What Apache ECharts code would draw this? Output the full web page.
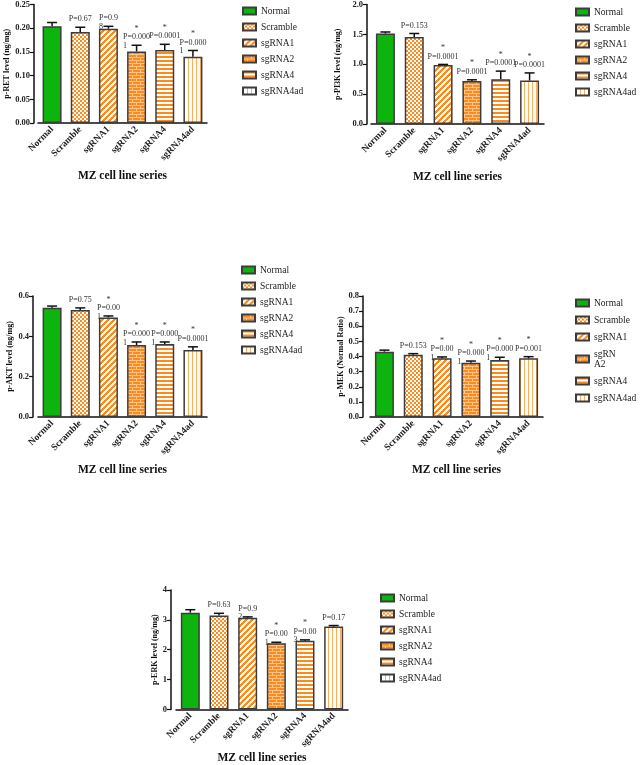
<!DOCTYPE html>
<html>
<head>
<meta charset="utf-8">
<script src="https://cdn.jsdelivr.net/npm/echarts@6/dist/echarts.min.js"></script>
<style>
html,body{margin:0;padding:0;background:#fff;}
#chart{width:640px;height:765px;}
</style>
</head>
<body>
<div id="chart"></div>
<script>
// ---------------- DATA ----------------
const categories = ['Normal', 'Scramble', 'sgRNA1', 'sgRNA2', 'sgRNA4', 'sgRNA4ad'];

const retMean = [0.204, 0.192, 0.199, 0.151, 0.154, 0.140];
const retErr  = [0.008, 0.010, 0.005, 0.013, 0.012, 0.013];
const retNote = ['', 'P=0.67', 'P=0.9\n8', '*\nP=0.000\n1', '*\nP=0.0001', '*\nP=0.000\n1'];

const pi3kMean = [1.515, 1.455, 0.987, 0.720, 0.750, 0.727];
const pi3kErr  = [0.025, 0.060, 0.010, 0.020, 0.135, 0.128];
const pi3kNote = ['', 'P=0.153', '*\nP=0.0001', '*\nP=0.0001', '*\nP=0.0001', '*\nP=0.0001'];

const aktMean = [0.542, 0.530, 0.494, 0.357, 0.362, 0.332];
const aktErr  = [0.008, 0.011, 0.007, 0.015, 0.010, 0.016];
const aktNote = ['', 'P=0.75', '*\nP=0.00\n1', '*\nP=0.000\n1', '*\nP=0.000\n1', '*\nP=0.0001'];

const mekMean = [0.432, 0.412, 0.388, 0.359, 0.377, 0.388];
const mekErr  = [0.010, 0.007, 0.009, 0.011, 0.018, 0.011];
const mekNote = ['', 'P=0.153', '*\nP=0.00\n1', '*\nP=0.000\n1', '*\nP=0.000\n1', '*\nP=0.001'];

const erkMean = [3.24, 3.15, 3.07, 2.22, 2.30, 2.78];
const erkErr  = [0.10, 0.07, 0.03, 0.03, 0.03, 0.03];
const erkNote = ['', 'P=0.63', 'P=0.9\n2', '*\nP=0.00\n1', '*\nP=0.00\n3', 'P=0.17'];

const yNames = ['p-RET level (ng/mg)', 'p-PI3K level (ng/mg)', 'p-AKT level (ng/mg)', 'p-MEK (Normal Ratio)', 'p-ERK level (ng/mg)'];
const yMax = [0.25, 2, 0.6, 0.8, 4];
const yInterval = [0.05, 0.5, 0.2, 0.1, 1];
const yDecimals = [2, 1, 1, 1, 0];
const xName = 'MZ cell line series';

// ---------------- STYLE / LAYOUT ----------------
const FONT = '"Liberation Serif", "Times New Roman", serif';
const ORANGE = '#ff8a1c';
const GREEN = '#0db40d';

const layout = [
  {grid: {left: 38, top: 3, width: 169, height: 120}, off: 4, yGap: 22, xGap: 47, legend: {left: 242, top: 5}},
  {grid: {left: 371, top: 3, width: 173, height: 121}, off: 4, yGap: 25, xGap: 47, legend: {left: 575, top: 6}},
  {grid: {left: 38, top: 296, width: 169, height: 121}, off: 5, yGap: 19, xGap: 47, legend: {left: 241, top: 264}},
  {grid: {left: 370, top: 296, width: 173, height: 121}, off: 7, yGap: 17, xGap: 47, legend: {left: 575, top: 298}},
  {grid: {left: 176, top: 590, width: 172, height: 121}, off: 5, yGap: 12, xGap: 33, legend: {left: 380, top: 592}}
];

function makeCanvas(w, h, draw) {
  const c = document.createElement('canvas');
  c.width = w; c.height = h;
  const ctx = c.getContext('2d');
  ctx.fillStyle = '#fff';
  ctx.fillRect(0, 0, w, h);
  draw(ctx);
  return c;
}
const checker = makeCanvas(4, 4, ctx => {
  ctx.fillStyle = ORANGE;
  ctx.fillRect(0, 0, 2, 2);
  ctx.fillRect(2, 2, 2, 2);
});
const diag = makeCanvas(6, 6, ctx => {
  ctx.fillStyle = ORANGE;
  for (let x = 0; x < 6; x++) for (let y = 0; y < 6; y++) {
    if ((x + y) % 6 < 3) ctx.fillRect(x, y, 1, 1);
  }
});
const brick = makeCanvas(8, 6, ctx => {
  ctx.fillStyle = ORANGE;
  ctx.fillRect(0, 0, 8, 6);
  ctx.fillStyle = '#ffc58a';
  ctx.fillRect(0, 0, 8, 1);
  ctx.fillRect(0, 3, 8, 1);
  ctx.fillRect(0, 1, 1, 2);
  ctx.fillRect(4, 4, 1, 2);
});
const hstripe = makeCanvas(2, 4, ctx => {
  ctx.fillStyle = ORANGE;
  ctx.fillRect(0, 0, 2, 2);
});
const vstripe = makeCanvas(4, 2, ctx => {
  ctx.fillStyle = '#ffae5c';
  ctx.fillRect(0, 0, 1, 2);
});
const fills = [
  GREEN,
  {image: checker, repeat: 'repeat'},
  {image: diag, repeat: 'repeat'},
  {image: brick, repeat: 'repeat'},
  {image: hstripe, repeat: 'repeat'},
  {image: vstripe, repeat: 'repeat'}
];

const measureCtx = document.createElement('canvas').getContext('2d');
const NOTE_SIZE = 8;
measureCtx.font = NOTE_SIZE + 'px ' + FONT;

const panels = [
  {mean: retMean, err: retErr, note: retNote},
  {mean: pi3kMean, err: pi3kErr, note: pi3kNote},
  {mean: aktMean, err: aktErr, note: aktNote},
  {mean: mekMean, err: mekErr, note: mekNote},
  {mean: erkMean, err: erkErr, note: erkNote}
];

const grids = [], xAxes = [], yAxes = [], legends = [], series = [];

panels.forEach((p, pi) => {
  const L = layout[pi];
  grids.push(Object.assign({containLabel: false}, L.grid));
  xAxes.push({
    type: 'category', gridIndex: pi, data: categories,
    name: xName, nameLocation: 'middle', nameGap: L.xGap,
    nameTextStyle: {fontFamily: FONT, fontWeight: 'bold', fontSize: 11.5, color: '#111'},
    axisLine: {lineStyle: {color: '#111', width: 1.5}},
    axisTick: {alignWithLabel: true, length: 4, lineStyle: {color: '#111', width: 1.2}},
    axisLabel: {interval: 0, rotate: 45, fontFamily: FONT, fontWeight: 'bold', fontSize: 9.5, color: '#222', margin: 5}
  });
  yAxes.push({
    type: 'value', gridIndex: pi, min: 0, max: yMax[pi], interval: yInterval[pi],
    offset: L.off,
    name: yNames[pi], nameLocation: 'middle', nameGap: L.yGap, nameRotate: 90,
    nameTextStyle: {fontFamily: FONT, fontWeight: 'bold', fontSize: 8, color: '#111'},
    axisLine: {show: true, lineStyle: {color: '#111', width: 1.5}},
    axisTick: {show: true, length: 4, lineStyle: {color: '#111', width: 1.2}},
    splitLine: {show: false},
    axisLabel: {fontFamily: FONT, fontWeight: 'bold', fontSize: 8.5, color: '#222', margin: 4,
      formatter: v => v.toFixed(yDecimals[pi])}
  });
  legends.push({
    orient: 'vertical', left: L.legend.left, top: L.legend.top, padding: 0,
    icon: 'rect',
    itemWidth: 13, itemHeight: 7, itemGap: pi === 3 ? 7 : 4,
    selectedMode: false,
    data: categories,
    formatter: pi === 3 ? (n => n === 'sgRNA2' ? 'sgRN\nA2' : n) : (n => n),
    textStyle: {fontFamily: FONT, fontSize: 9.5, color: '#222', lineHeight: pi === 3 ? 10 : 12}
  });
  categories.forEach((c, ci) => {
    series.push({
      type: 'bar', name: c, xAxisIndex: pi, yAxisIndex: pi,
      barWidth: 19, barGap: '-100%',
      data: categories.map((_, k) => k === ci ? p.mean[k] : '-'),
      itemStyle: {color: fills[ci], borderColor: '#3c3c3c', borderWidth: 1.5},
      emphasis: {disabled: true},
      animation: false, z: 2
    });
  });
  series.push({
    type: 'custom', xAxisIndex: pi, yAxisIndex: pi, z: 5, animation: false, silent: true,
    data: p.mean.map((m, k) => [k, m, p.err[k]]),
    encode: {x: 0, y: 1},
    renderItem: (params, api) => {
      const i = api.value(0), m = api.value(1), e = api.value(2);
      const top = api.coord([i, m]);
      const cap = api.coord([i, m + e]);
      const cx = top[0];
      const children = [
        {type: 'line', shape: {x1: cx, y1: top[1], x2: cx, y2: cap[1]}, style: {stroke: '#111', lineWidth: 1.5}},
        {type: 'line', shape: {x1: cx - 5, y1: cap[1], x2: cx + 5, y2: cap[1]}, style: {stroke: '#111', lineWidth: 1.5}}
      ];
      const note = p.note[params.dataIndex];
      if (note) {
        let lines = note.split('\n');
        let star = false;
        if (lines[0] === '*') { star = true; lines = lines.slice(1); }
        const firstY = cap[1] - 8;
        if (lines.length) {
          const w = measureCtx.measureText(lines[0]).width;
          const left = cx - w / 2;
          lines.forEach((ln, li) => {
            children.push({type: 'text', x: left, y: firstY + li * 8.5,
              style: {text: ln, fill: '#333', font: NOTE_SIZE + 'px ' + FONT, align: 'left', verticalAlign: 'middle'}});
          });
        }
        if (star) {
          children.push({type: 'text', x: cx, y: firstY - 8.5,
            style: {text: '*', fill: '#333', font: NOTE_SIZE + 'px ' + FONT, align: 'center', verticalAlign: 'middle'}});
        }
      }
      return {type: 'group', children};
    }
  });
});

const chart = echarts.init(document.getElementById('chart'), null, {renderer: 'canvas'});
chart.setOption({
  backgroundColor: '#fff',
  animation: false,
  grid: grids, xAxis: xAxes, yAxis: yAxes, legend: legends, series
});
</script>
</body>
</html>
